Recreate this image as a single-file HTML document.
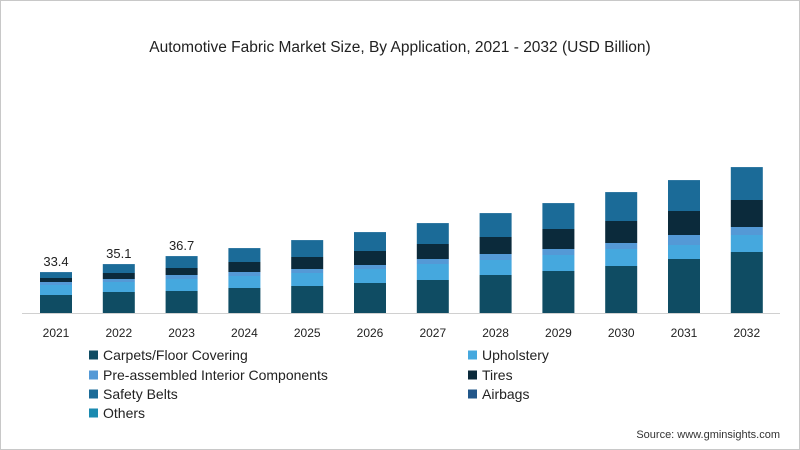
<!DOCTYPE html>
<html><head><meta charset="utf-8">
<style>
body{margin:0;background:#fff;}
#wrap{position:relative;width:800px;height:450px;overflow:hidden;background:#fff;font-family:"Liberation Sans",sans-serif;}
.frame{position:absolute;left:0;top:0;width:798px;height:448px;border:1px solid #c8c8c8;}
</style></head>
<body>
<div id="wrap">
<div class="frame"></div>
<svg id="chart" width="800" height="450" style="position:absolute;left:0;top:0">
<text x="400" y="52" text-anchor="middle" font-size="15.5" fill="#222">Automotive Fabric Market Size, By Application, 2021 - 2032 (USD Billion)</text>
<line x1="22" y1="313.5" x2="780" y2="313.5" stroke="#d0d0d0" stroke-width="1"/>
<g id="bars"></g>
<g id="legend"></g>
<text x="780" y="438" text-anchor="end" font-size="11" fill="#333">Source: www.gminsights.com</text>
</svg>
</div>
<script>
const years = ["2021","2022","2023","2024","2025","2026","2027","2028","2029","2030","2031","2032"];
const carpets = [18,21,22,25,27,30,33,38,42,47,54,61];
const upholstery = [10,10,12,12,13,14,16,15,16,17,14,17];
const preAssembled = [3,3,4,4,4,4,5,6,6,6,10,8];
const tires = [4,6,7,10,12,14,15,17,20,22,24,27];
const safetyBelts = [5,8,11,13,16,18,20,23,25,28,30,32];
const airbags = [0.6,0.6,0.6,0.6,0.6,0.6,0.6,0.6,0.6,0.6,0.6,0.6];
const others = [0.4,0.4,0.4,0.4,0.4,0.4,0.4,0.4,0.4,0.4,0.4,0.4];
const valueLabels = ["33.4","35.1","36.7","","","","","","","","",""];
const seriesNames = ["Carpets/Floor Covering","Upholstery","Pre-assembled Interior Components","Tires","Safety Belts","Airbags","Others"];

const series = [carpets,upholstery,preAssembled,tires,safetyBelts,airbags,others];
const colors = ["#0f4c63","#45a8de","#5499d6","#0b2a3b","#1b6b98","#22578a","#1a8ab0"];
const ns="http://www.w3.org/2000/svg";
const baseY=313, pxPerUnit=1.0, x0=56, step=62.8, bw=32;
const yScale=v=>baseY - v*pxPerUnit;
const xScale=i=>x0+i*step;
const g=document.getElementById('bars');
years.forEach((yr,i)=>{
  let cum=0;
  series.forEach((s,k)=>{
    const y1=yScale(cum), y2=yScale(cum+s[i]);
    const r=document.createElementNS(ns,'rect');
    r.setAttribute('x',xScale(i)-bw/2);r.setAttribute('y',y2);
    r.setAttribute('width',bw);r.setAttribute('height',y1-y2);
    r.setAttribute('fill',colors[k]);
    
    
    g.appendChild(r);
    cum+=s[i];
  });
  if(valueLabels[i]){
    const t=document.createElementNS(ns,'text');
    t.setAttribute('x',xScale(i));t.setAttribute('y',yScale(cum)-6);
    t.setAttribute('text-anchor','middle');t.setAttribute('font-size','13');t.setAttribute('fill','#222');
    t.textContent=valueLabels[i];
    
    
    g.appendChild(t);
  }
  const t=document.createElementNS(ns,'text');
  t.setAttribute('x',xScale(i));t.setAttribute('y',337);
  t.setAttribute('text-anchor','middle');t.setAttribute('font-size','12');t.setAttribute('fill','#222');
  t.textContent=yr;
  
  
  g.appendChild(t);
});
const lg=document.getElementById('legend');
const pos=[[89,355],[468,355],[89,375],[468,375],[89,394],[468,394],[89,413]];
seriesNames.forEach((n,k)=>{
  const [x,y]=pos[k];
  const r=document.createElementNS(ns,'rect');
  r.setAttribute('x',x);r.setAttribute('y',y-4.5);r.setAttribute('width',9);r.setAttribute('height',9);
  r.setAttribute('fill',colors[k]);
  
  
  lg.appendChild(r);
  const t=document.createElementNS(ns,'text');
  t.setAttribute('x',x+14);t.setAttribute('y',y+5);t.setAttribute('font-size','14');t.setAttribute('fill','#222');
  t.textContent=n;
  
  
  lg.appendChild(t);
});
</script>
</body></html>
